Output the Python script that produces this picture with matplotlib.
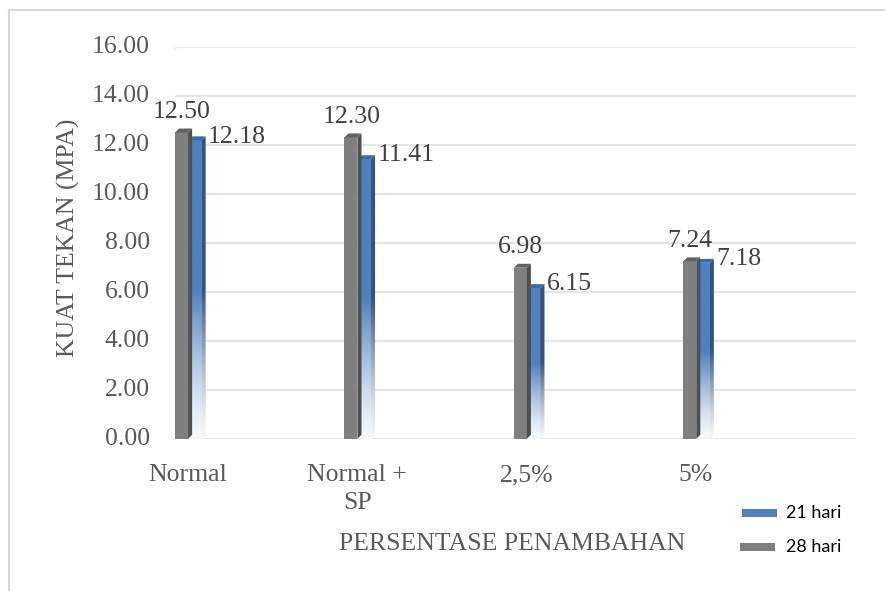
import numpy as np
import matplotlib.pyplot as plt
from matplotlib.patches import Polygon, Rectangle
from matplotlib.lines import Line2D

# data
categories = ["Normal", "Normal +\nSP", "2,5%", "5%"]
hari_21 = [12.18, 11.41, 6.15, 7.18]
hari_28 = [12.50, 12.30, 6.98, 7.24]
yticks = np.arange(0, 17, 2)

SERIF = "Liberation Serif"
W, H = 885, 591

fig = plt.figure(figsize=(W / 100, H / 100), dpi=100)
ax = fig.add_axes([175 / W, (H - 438.7) / H, (856 - 175) / W, (438.7 - 46.7) / H])
ax.set_xlim(0, 4.02)
ax.set_ylim(0, 16)
ax.axis("off")

# pseudo 3d geometry (data units)
bw = 0.077      # front face width
dx = 0.024      # depth offset x
dy = 0.16       # depth offset y
off_21 = 0.08   # blue bar offset from gray

BLUE = np.array([0x4f, 0x81, 0xbd]) / 255
BLUE_SIDE = np.array([0x2f, 0x55, 0x87]) / 255
BLUE_TOP = "#3d6aa0"
GRAY = "#7f7f7f"
GRAY_SIDE = "#4f4f4f"
GRAY_TOP = "#626262"


def fade(rgb, n=200):
    # solid on upper half, fading to white towards the floor
    t = np.linspace(0, 1, n)
    s = np.clip(t / 0.5, 0, 1) ** 1.3
    s = 0.05 + 0.95 * s
    col = (1 - s)[:, None] + s[:, None] * rgb[None, :]
    return col[:, None, :]


# gridlines
for y in yticks:
    ax.plot([0.012, 4.02], [y, y], color="#e6e6e6", lw=1.6, zorder=0)
    ax.plot([0.0, 0.012], [y - 0.07, y], color="#e6e6e6", lw=1.6, zorder=0)

for i, (v21, v28) in enumerate(zip(hari_21, hari_28)):
    # 21 hari (blue, gradient)
    x0 = i + off_21
    x1 = x0 + bw
    ax.imshow(fade(BLUE), extent=[x0, x1, 0, v21], origin="lower",
              aspect="auto", interpolation="bilinear", zorder=2)
    side = Polygon([(x1, 0), (x1 + dx, dy), (x1 + dx, v21 + dy), (x1, v21)],
                   closed=True, facecolor="none", edgecolor="none",
                   transform=ax.transData)
    ax.add_patch(side)
    im = ax.imshow(fade(BLUE_SIDE), extent=[x1, x1 + dx, 0, v21 + dy],
                   origin="lower", aspect="auto", interpolation="bilinear",
                   zorder=2)
    im.set_clip_path(side)
    ax.add_patch(Polygon([(x0, v21), (x1, v21), (x1 + dx, v21 + dy),
                          (x0 + dx, v21 + dy)], closed=True,
                         facecolor=BLUE_TOP, edgecolor="none", zorder=2))

    # 28 hari (gray)
    g0 = i
    g1 = g0 + bw
    ax.add_patch(Rectangle((g0, 0), bw, v28, facecolor=GRAY,
                           edgecolor="none", zorder=3))
    ax.add_patch(Polygon([(g1, 0), (g1 + dx, dy), (g1 + dx, v28 + dy),
                          (g1, v28)], closed=True, facecolor=GRAY_SIDE,
                         edgecolor="none", zorder=3))
    ax.add_patch(Polygon([(g0, v28), (g1, v28), (g1 + dx, v28 + dy),
                          (g0 + dx, v28 + dy)], closed=True,
                         facecolor=GRAY_TOP, edgecolor="none", zorder=3))

    # value labels
    ax.text(i + 0.04, v28 + 0.83, f"{v28:.2f}", ha="center", va="center",
            fontsize=18.5, family=SERIF, color="#404040", zorder=5)
    ax.text(i + 0.195, v21 + 0.15, f"{v21:.2f}", ha="left", va="center",
            fontsize=18.5, family=SERIF, color="#404040", zorder=5)

    # category label
    ax.text(i + 0.075, -1.05, categories[i], ha="center", va="top",
            fontsize=18.5, family=SERIF, color="#595959",
            linespacing=1.3, clip_on=False)

ax.set_xlim(0, 4.02)
ax.set_ylim(0, 16)

# y tick labels
for y in yticks:
    ax.text(-25 / 169.4, y, f"{y:.2f}", ha="right", va="center",
            fontsize=18.5, family=SERIF, color="#595959", clip_on=False)

# axis titles
fig.text(68 / W, 1 - 238 / H, "KUAT TEKAN (MPA)", rotation=90,
         ha="center", va="center", fontsize=18.5, family=SERIF,
         color="#595959")
fig.text(512 / W, 1 - 544 / H, "PERSENTASE PENAMBAHAN", ha="center",
         va="center", fontsize=18.5, family=SERIF, color="#595959")

# legend
for (px, py, c, lab) in [(742, 513, BLUE, "21 hari"), (740, 547, GRAY, "28 hari")]:
    fig.add_artist(Rectangle((px / W, 1 - (py + 4) / H), 35 / W, 8 / H,
                             facecolor=c, edgecolor="none",
                             transform=fig.transFigure))
    fig.text(786 / W, 1 - py / H, lab, ha="left", va="center",
             fontsize=13, family="Lato", color="#000000")

# chart frame
fig.add_artist(Line2D([9 / W, 1], [1 - 10 / H, 1 - 10 / H], color="#d9d9d9",
                      lw=1.5, transform=fig.transFigure))
fig.add_artist(Line2D([9 / W, 9 / W], [0, 1 - 10 / H], color="#d9d9d9",
                      lw=1.5, transform=fig.transFigure))

fig.savefig("out.png", dpi=100)
